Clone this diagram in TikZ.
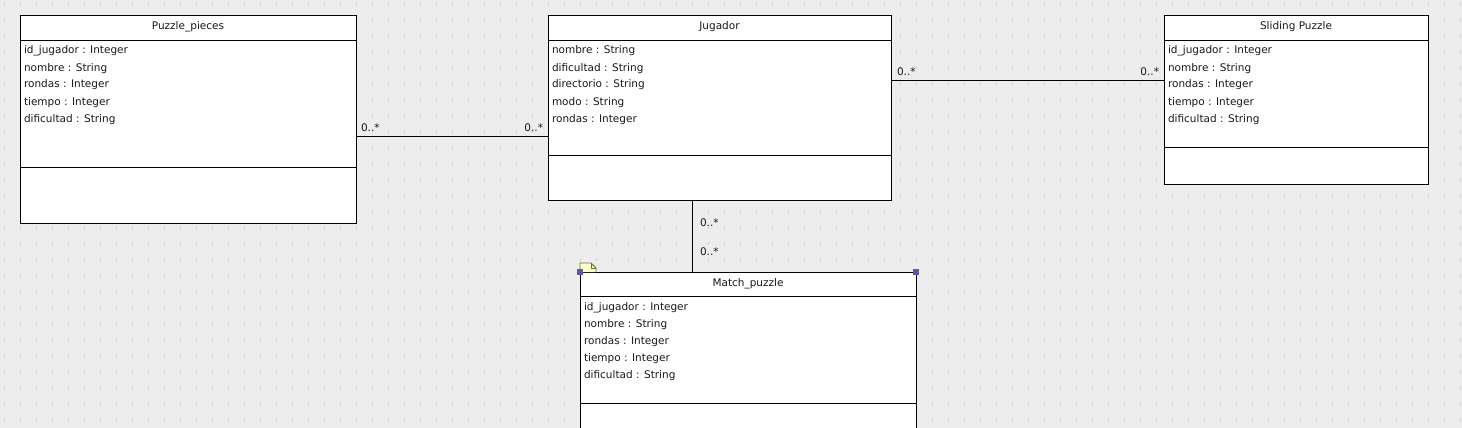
\documentclass[tikz,border=0pt]{standalone}
\usepackage{fontspec}
\setmainfont{DejaVu Sans}
\begin{document}
\begin{tikzpicture}[x=1pt,y=-1pt,
  every node/.style={inner sep=0pt,outer sep=0pt,font=\fontsize{10.5}{13}\selectfont,text=black!90},
  classbox/.style={draw=black,line width=1pt,fill=white,rectangle,anchor=north west},
  sepline/.style={draw=black,line width=0.9pt},
  attr/.style={anchor=base west},
  ttl/.style={anchor=base},
  mult/.style={anchor=base west},
  multr/.style={anchor=base east},
  assoc/.style={draw=black,line width=0.9pt},
  handle/.style={fill=handlecol,draw=none},
]
\definecolor{bgcol}{HTML}{EDEDED}
\definecolor{dotcol}{HTML}{CFCFCF}
\definecolor{handlecol}{HTML}{5959A6}
\definecolor{notefill}{HTML}{FFFFCC}
\definecolor{noteline}{HTML}{6E6A3A}
\clip (0,0) rectangle (1462,428);
\fill[bgcol] (0,0) rectangle (1462,428);
\foreach \i in {0,...,91}{
  \foreach \j in {0,...,26}{
    \fill[dotcol] ({4+16*\i},{2+16*\j}) rectangle ++(1,3);
  }
}
% Puzzle_pieces
\node[classbox,minimum width=336pt,minimum height=207pt] (pp) at (20,16) {};
\draw[sepline] (20,40) -- (356,40);
\draw[sepline] (20,167) -- (356,167);
\node[ttl] (ppt) at (188,30) {Puzzle\_pieces};
\node[attr] (pp1) at (24,54) {id\_jugador : Integer};
\node[attr] (pp2) at (24,71) {nombre : String};
\node[attr] (pp3) at (24,88) {rondas : Integer};
\node[attr] (pp4) at (24,105) {tiempo : Integer};
\node[attr] (pp5) at (24,122) {dificultad : String};
% Jugador
\node[classbox,minimum width=343pt,minimum height=184pt] (jg) at (548,16) {};
\draw[sepline] (548,40) -- (891,40);
\draw[sepline] (548,155) -- (891,155);
\node[ttl] (jgt) at (719.5,30) {Jugador};
\node[attr] (jg1) at (552,54) {nombre : String};
\node[attr] (jg2) at (552,71) {dificultad : String};
\node[attr] (jg3) at (552,88) {directorio : String};
\node[attr] (jg4) at (552,105) {modo : String};
\node[attr] (jg5) at (552,122) {rondas : Integer};
% Sliding Puzzle
\node[classbox,minimum width=264pt,minimum height=168pt] (sp) at (1164,16) {};
\draw[sepline] (1164,40) -- (1428,40);
\draw[sepline] (1164,147) -- (1428,147);
\node[ttl] (spt) at (1296,30) {Sliding Puzzle};
\node[attr] (sp1) at (1168,54) {id\_jugador : Integer};
\node[attr] (sp2) at (1168,71) {nombre : String};
\node[attr] (sp3) at (1168,88) {rondas : Integer};
\node[attr] (sp4) at (1168,105) {tiempo : Integer};
\node[attr] (sp5) at (1168,122) {dificultad : String};
% Match_puzzle
\node[classbox,minimum width=336pt,minimum height=180pt] (mp) at (580,272) {};
\draw[sepline] (580,296) -- (916,296);
\draw[sepline] (580,403) -- (916,403);
\node[ttl] (mpt) at (748,286) {Match\_puzzle};
\node[attr] (mp1) at (584,310) {id\_jugador : Integer};
\node[attr] (mp2) at (584,327) {nombre : String};
\node[attr] (mp3) at (584,344) {rondas : Integer};
\node[attr] (mp4) at (584,361) {tiempo : Integer};
\node[attr] (mp5) at (584,378) {dificultad : String};
% associations
\coordinate (a1) at (356,136); \coordinate (b1) at (548,136);
\draw[assoc] (a1) -- (b1);
\node[mult] (m1a) at (361,131) {0..*};
\node[multr] (m1b) at (543,131) {0..*};
\coordinate (a2) at (891,80); \coordinate (b2) at (1164,80);
\draw[assoc] (a2) -- (b2);
\node[mult] (m2a) at (897,75) {0..*};
\node[multr] (m2b) at (1159,75) {0..*};
\coordinate (a3) at (692,200); \coordinate (b3) at (692,272);
\draw[assoc] (a3) -- (b3);
\node[mult] (m3a) at (700,226) {0..*};
\node[mult] (m3b) at (700,255) {0..*};
% note icon and selection handles
\draw[fill=notefill,draw=noteline,line width=0.8pt] (580,272) -- (580,263) -- (591,263) -- (596,268) -- (596,272);
\draw[draw=noteline,line width=0.6pt] (591,263) -- (591,268) -- (596,268);
\fill[handle] (577,269) rectangle (583,275);
\fill[handle] (913,269) rectangle (919,275);
\end{tikzpicture}
\end{document}
